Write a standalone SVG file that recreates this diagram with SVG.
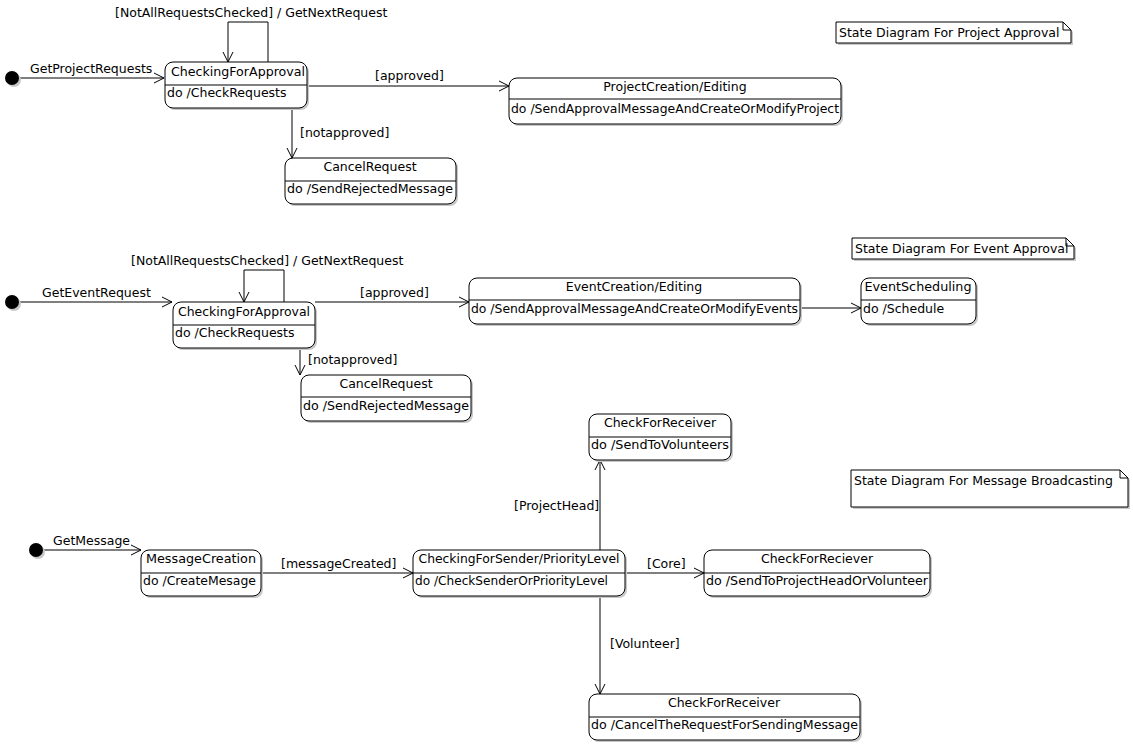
<svg xmlns="http://www.w3.org/2000/svg" width="1133" height="744" viewBox="0 0 1133 744">
<style>
text{font-family:"DejaVu Sans",sans-serif;font-size:12.5px;fill:#000}
.box{fill:#fff;stroke:#000;stroke-width:1}
.sh{fill:#c8c8c8;stroke:none}
.div{stroke:#000;stroke-width:1}
.c{text-anchor:middle}
.ln{fill:none;stroke:#000;stroke-width:1}
</style>
<defs>
<marker id="ar" markerUnits="userSpaceOnUse" markerWidth="12" markerHeight="12" refX="11" refY="6" orient="auto" overflow="visible">
<path d="M1,1 L11,6 L1,11" fill="none" stroke="#000" stroke-width="1"/>
</marker>
</defs>
<rect width="1133" height="744" fill="#fff"/>

<g id="connectors">
<path class="ln" d="M19,78 H164" marker-end="url(#ar)"/>
<path class="ln" d="M268,62 V22 H228 V62" marker-end="url(#ar)"/>
<path class="ln" d="M307,86 H509" marker-end="url(#ar)"/>
<path class="ln" d="M292,108 V158" marker-end="url(#ar)"/>
<path class="ln" d="M19,302 H172" marker-end="url(#ar)"/>
<path class="ln" d="M284,302 V270 H244 V302" marker-end="url(#ar)"/>
<path class="ln" d="M315,302 H469" marker-end="url(#ar)"/>
<path class="ln" d="M800,308 H861" marker-end="url(#ar)"/>
<path class="ln" d="M300,348 V375" marker-end="url(#ar)"/>
<path class="ln" d="M43,550 H141" marker-end="url(#ar)"/>
<path class="ln" d="M261,573 H413" marker-end="url(#ar)"/>
<path class="ln" d="M600,550 V460" marker-end="url(#ar)"/>
<path class="ln" d="M625,573 H704" marker-end="url(#ar)"/>
<path class="ln" d="M600,596 V694" marker-end="url(#ar)"/>
<text x="30" y="73">GetProjectRequests</text>
<text x="115" y="17">[NotAllRequestsChecked] / GetNextRequest</text>
<text x="375" y="80">[approved]</text>
<text x="300" y="137">[notapproved]</text>
<text x="42" y="297">GetEventRequest</text>
<text x="131" y="265">[NotAllRequestsChecked] / GetNextRequest</text>
<text x="360" y="297">[approved]</text>
<text x="308" y="364">[notapproved]</text>
<text x="53" y="545">GetMessage</text>
<text x="281" y="568">[messageCreated]</text>
<text x="514" y="510">[ProjectHead]</text>
<text x="647" y="568">[Core]</text>
<text x="610" y="648">[Volunteer]</text>
</g>

<g id="init1"><circle cx="14" cy="80" r="7" class="sh"/><circle cx="12" cy="78" r="7" fill="#000"/></g>
<g id="init2"><circle cx="14" cy="304" r="7" class="sh"/><circle cx="12" cy="302" r="7" fill="#000"/></g>
<g id="init3"><circle cx="38" cy="552" r="7" class="sh"/><circle cx="36" cy="550" r="7" fill="#000"/></g>

<g id="checking1">
<rect x="167" y="64" width="142" height="46" rx="8" class="sh"/>
<rect x="165" y="62" width="142" height="46" rx="8" class="box"/>
<line x1="165" y1="85" x2="307" y2="85" class="div"/>
<text x="238" y="76" class="c" textLength="134" lengthAdjust="spacingAndGlyphs">CheckingForApproval</text>
<text x="167" y="97">do /CheckRequests</text>
</g>
<g id="projectCreation">
<rect x="511" y="80" width="332" height="46" rx="8" class="sh"/>
<rect x="509" y="78" width="332" height="46" rx="8" class="box"/>
<line x1="509" y1="99" x2="841" y2="99" class="div"/>
<text x="675" y="91" class="c">ProjectCreation/Editing</text>
<text x="511" y="113" textLength="328" lengthAdjust="spacingAndGlyphs">do /SendApprovalMessageAndCreateOrModifyProject</text>
</g>
<g id="cancel1">
<rect x="287" y="160" width="171" height="46" rx="8" class="sh"/>
<rect x="285" y="158" width="171" height="46" rx="8" class="box"/>
<line x1="285" y1="181" x2="456" y2="181" class="div"/>
<text x="370" y="171" class="c">CancelRequest</text>
<text x="287" y="193" textLength="166" lengthAdjust="spacingAndGlyphs">do /SendRejectedMessage</text>
</g>
<g id="note1">
<path d="M838,24 H1065 L1073,32 V45 H838 Z" class="sh"/>
<path d="M836,22 H1063 L1071,30 V43 H836 Z" class="box"/>
<path d="M1063,22 V30 H1071" class="ln"/>
<text x="839" y="37">State Diagram For Project Approval</text>
</g>

<g id="checking2">
<rect x="175" y="304" width="142" height="46" rx="8" class="sh"/>
<rect x="173" y="302" width="142" height="46" rx="8" class="box"/>
<line x1="173" y1="325" x2="315" y2="325" class="div"/>
<text x="244" y="316" class="c" textLength="132" lengthAdjust="spacingAndGlyphs">CheckingForApproval</text>
<text x="175" y="337">do /CheckRequests</text>
</g>
<g id="eventCreation">
<rect x="471" y="280" width="331" height="46" rx="8" class="sh"/>
<rect x="469" y="278" width="331" height="46" rx="8" class="box"/>
<line x1="469" y1="300" x2="800" y2="300" class="div"/>
<text x="634" y="291" class="c">EventCreation/Editing</text>
<text x="471" y="313" textLength="327" lengthAdjust="spacingAndGlyphs">do /SendApprovalMessageAndCreateOrModifyEvents</text>
</g>
<g id="eventScheduling">
<rect x="863" y="280" width="115" height="46" rx="8" class="sh"/>
<rect x="861" y="278" width="115" height="46" rx="8" class="box"/>
<line x1="861" y1="300" x2="976" y2="300" class="div"/>
<text x="918" y="291" class="c" textLength="107" lengthAdjust="spacingAndGlyphs">EventScheduling</text>
<text x="863" y="313">do /Schedule</text>
</g>
<g id="cancel2">
<rect x="303" y="377" width="170" height="46" rx="8" class="sh"/>
<rect x="301" y="375" width="170" height="46" rx="8" class="box"/>
<line x1="301" y1="397" x2="471" y2="397" class="div"/>
<text x="386" y="388" class="c">CancelRequest</text>
<text x="303" y="410" textLength="166" lengthAdjust="spacingAndGlyphs">do /SendRejectedMessage</text>
</g>
<g id="note2">
<path d="M854,240 H1068 L1076,248 V261 H854 Z" class="sh"/>
<path d="M852,238 H1066 L1074,246 V259 H852 Z" class="box"/>
<path d="M1066,238 V246 H1074" class="ln"/>
<text x="855" y="253">State Diagram For Event Approval</text>
</g>

<g id="messageCreation">
<rect x="143" y="552" width="120" height="46" rx="8" class="sh"/>
<rect x="141" y="550" width="120" height="46" rx="8" class="box"/>
<line x1="141" y1="573" x2="261" y2="573" class="div"/>
<text x="201" y="563" class="c" textLength="110" lengthAdjust="spacingAndGlyphs">MessageCreation</text>
<text x="143" y="585" textLength="113" lengthAdjust="spacingAndGlyphs">do /CreateMesage</text>
</g>
<g id="checkingSender">
<rect x="415" y="552" width="212" height="46" rx="8" class="sh"/>
<rect x="413" y="550" width="212" height="46" rx="8" class="box"/>
<line x1="413" y1="573" x2="625" y2="573" class="div"/>
<text x="519" y="563" class="c" textLength="201" lengthAdjust="spacingAndGlyphs">CheckingForSender/PriorityLevel</text>
<text x="415" y="585" textLength="193" lengthAdjust="spacingAndGlyphs">do /CheckSenderOrPriorityLevel</text>
</g>
<g id="receiverTop">
<rect x="591" y="416" width="142" height="46" rx="8" class="sh"/>
<rect x="589" y="414" width="142" height="46" rx="8" class="box"/>
<line x1="589" y1="437" x2="731" y2="437" class="div"/>
<text x="660" y="427" class="c">CheckForReceiver</text>
<text x="591" y="449" textLength="138" lengthAdjust="spacingAndGlyphs">do /SendToVolunteers</text>
</g>
<g id="receiverCore">
<rect x="706" y="552" width="226" height="46" rx="8" class="sh"/>
<rect x="704" y="550" width="226" height="46" rx="8" class="box"/>
<line x1="704" y1="573" x2="930" y2="573" class="div"/>
<text x="817" y="563" class="c">CheckForReciever</text>
<text x="706" y="585" textLength="222" lengthAdjust="spacingAndGlyphs">do /SendToProjectHeadOrVolunteer</text>
</g>
<g id="receiverBottom">
<rect x="591" y="696" width="271" height="46" rx="8" class="sh"/>
<rect x="589" y="694" width="271" height="46" rx="8" class="box"/>
<line x1="589" y1="717" x2="860" y2="717" class="div"/>
<text x="724" y="707" class="c">CheckForReceiver</text>
<text x="591" y="729" textLength="267" lengthAdjust="spacingAndGlyphs">do /CancelTheRequestForSendingMessage</text>
</g>
<g id="note3">
<path d="M853,472 H1122 L1130,480 V509 H853 Z" class="sh"/>
<path d="M851,470 H1120 L1128,478 V507 H851 Z" class="box"/>
<path d="M1120,470 V478 H1128" class="ln"/>
<text x="854" y="485">State Diagram For Message Broadcasting</text>
</g>
</svg>
